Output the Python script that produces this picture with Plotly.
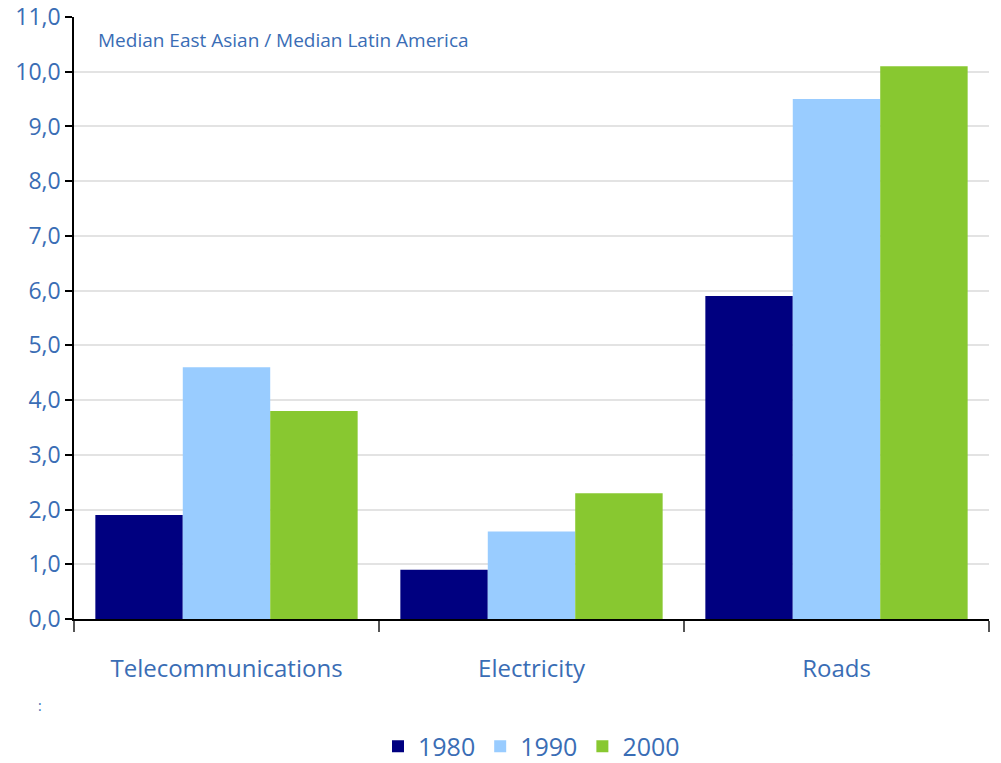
import plotly.graph_objects as go

categories = ["Telecommunications", "Electricity", "Roads"]
years = ["1980", "1990", "2000"]
values_1980 = [1.9, 0.9, 5.9]
values_1990 = [4.6, 1.6, 9.5]
values_2000 = [3.8, 2.3, 10.1]
colors = ["#000080", "#99CCFF", "#88C830"]
y_ticks = [0, 1, 2, 3, 4, 5, 6, 7, 8, 9, 10, 11]

text_color = "#3A6DB5"
font_family = "Open Sans, sans-serif"

fig = go.Figure()
for name, vals, col in zip(years, [values_1980, values_1990, values_2000], colors):
    fig.add_trace(go.Bar(x=categories, y=vals, name=name, marker=dict(color=col, line=dict(width=0))))

fig.update_layout(
    width=1001, height=763,
    margin=dict(l=74, r=12, t=17, b=144, autoexpand=False),
    paper_bgcolor="white", plot_bgcolor="white",
    barmode="group", bargap=0.14, bargroupgap=0,
    separators=",.",
    font=dict(family=font_family, color=text_color, size=22),
    showlegend=True,
    legend=dict(orientation="h", x=0.5, xanchor="center", y=-0.212, yanchor="middle",
                font=dict(size=25, color=text_color), itemwidth=30, traceorder="normal",
                tracegroupgap=0, itemclick=False),
    xaxis=dict(showline=True, linecolor="black", linewidth=1.5, ticks="outside", tickson="boundaries",
               ticklen=11, tickcolor="#555555", tickwidth=1.5, showgrid=False, automargin=False,
               tickfont=dict(size=24, color=text_color), ticklabelstandoff=27),
    yaxis=dict(range=[0, 11], tickvals=y_ticks, tickformat=".1f", showline=True, linecolor="black",
               linewidth=1.5, ticks="outside", ticklen=7, tickcolor="black", tickwidth=1.5,
               showgrid=True, gridcolor="#E3E3E3", gridwidth=1.5, zeroline=False, automargin=False,
               tickfont=dict(size=23, color=text_color)),
    annotations=[
        dict(text="Median East Asian / Median Latin America", xref="paper", yref="paper",
             x=(96 - 74) / 915, y=(619 - 40) / 602, xanchor="left", yanchor="middle",
             showarrow=False, font=dict(size=19, color=text_color)),
        dict(text=":", xref="paper", yref="paper", x=(40 - 74) / 915, y=(619 - 705) / 602,
             xanchor="center", yanchor="middle", showarrow=False, font=dict(size=14, color=text_color)),
    ],
)

fig.write_html("out.html", config={"displayModeBar": False},
               post_script="document.body.style.margin='0';document.body.style.overflow='hidden';")
